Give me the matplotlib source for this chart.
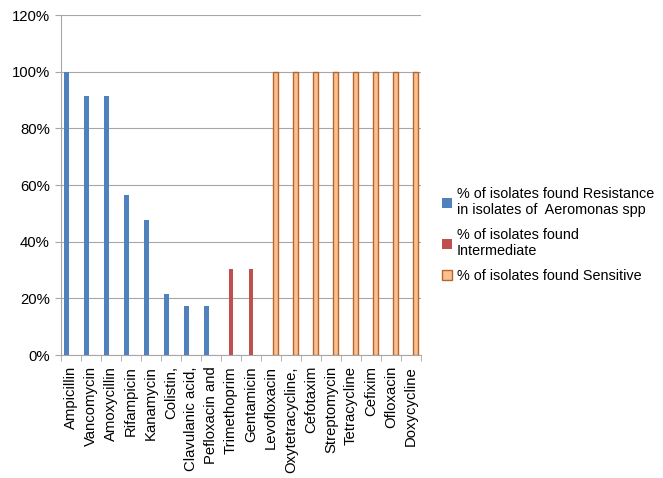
import matplotlib
matplotlib.use('Agg')
import matplotlib.pyplot as plt
import numpy as np
from matplotlib.patches import Patch

plt.rcParams['font.family'] = ['Liberation Sans', 'DejaVu Sans']

drugs = ['Ampicillin', 'Vancomycin', 'Amoxycillin', 'Rifampicin', 'Kanamycin',
         'Colistin,', 'Clavulanic acid,', 'Pefloxacin and', 'Trimethoprim',
         'Gentamicin', 'Levofloxacin', 'Oxytetracycline,', 'Cefotaxim',
         'Streptomycin', 'Tetracycline', 'Cefixim', 'Ofloxacin', 'Doxycycline']

resistant = [100, 91.3, 91.3, 56.5, 47.8, 21.7, 17.4, 17.4, 0, 0,
             0, 0, 0, 0, 0, 0, 0, 0]
intermediate = [0, 0, 0, 0, 0, 0, 0, 0, 30.4, 30.4,
                0, 0, 0, 0, 0, 0, 0, 0]
sensitive = [0, 0, 0, 0, 0, 0, 0, 0, 0, 0,
             100, 100, 100, 100, 100, 100, 100, 100]

series_labels = ['% of isolates found Resistance\nin isolates of  Aeromonas spp',
                 '% of isolates found\nIntermediate',
                 '% of isolates found Sensitive']

fig = plt.figure(figsize=(6.63, 4.78), dpi=100)
ax = fig.add_axes([0.092, 0.2573, 0.543, 0.711])

x = np.arange(len(drugs))
w = 0.225
ax.bar(x - w, resistant, w, color='#4F81BD', zorder=3)
ax.bar(x, intermediate, w, color='#C0504D', zorder=3)
ax.bar(x + w, [v if v > 0 else np.nan for v in sensitive], w,
       color='#FAC090', edgecolor='#B8662E', linewidth=1.0, zorder=3)

ax.set_xlim(-0.5, len(drugs) - 0.5)
ax.set_ylim(0, 120)
ax.set_yticks(range(0, 121, 20))
ax.set_yticklabels([f'{v}%' for v in range(0, 121, 20)], fontsize=10.7)
ax.yaxis.grid(True, color='#A6A6A6', linewidth=0.8, zorder=0)

ax.set_xticks(x)
ax.set_xticklabels(drugs, rotation=90, fontsize=10.7, va='top')
ax.tick_params(axis='x', length=0, pad=8)
ax.set_xticks(np.arange(-0.5, len(drugs)), minor=True)
ax.tick_params(axis='x', which='minor', length=4, color='#A6A6A6')
ax.tick_params(axis='y', length=4, color='#A6A6A6', pad=4)

for s in ['top', 'right']:
    ax.spines[s].set_visible(False)
for s in ['left', 'bottom']:
    ax.spines[s].set_color('#A6A6A6')

handles = [Patch(facecolor='#4F81BD'),
           Patch(facecolor='#C0504D'),
           Patch(facecolor='#FAC090', edgecolor='#B8662E')]
fig.legend(handles, series_labels, loc='center left',
           bbox_to_anchor=(0.652, 0.508), frameon=False, fontsize=10.4,
           handlelength=0.7, handleheight=0.7, handletextpad=0.3,
           labelspacing=0.75, borderpad=0.2)

fig.savefig('out.png', dpi=100)
